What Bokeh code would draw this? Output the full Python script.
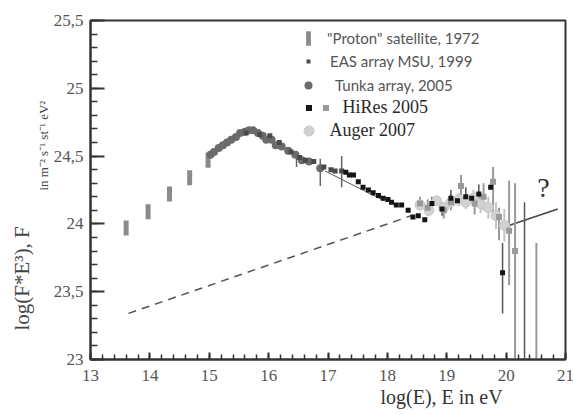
from bokeh.plotting import figure
from bokeh.models import (SingleIntervalTicker, CustomJSTickFormatter, Legend,
                          LegendItem, Label, Title)
from bokeh.embed import file_html
from bokeh.resources import INLINE

# ---------------- data (log10 E in eV, log10 of F*E^3) ----------------
proton_x = [13.60, 13.97, 14.33, 14.67, 14.98]
proton_y = [23.97, 24.09, 24.22, 24.34, 24.47]

tunka_x = [15.02, 15.08, 15.16, 15.23, 15.30, 15.37, 15.45, 15.52, 15.60, 15.67,
           15.74, 15.82, 15.90, 15.96, 16.05, 16.12, 16.22, 16.33, 16.45, 16.56,
           16.68, 16.87]
tunka_y = [24.51, 24.53, 24.56, 24.58, 24.60, 24.62, 24.64, 24.67, 24.68, 24.69,
           24.69, 24.67, 24.65, 24.62, 24.62, 24.58, 24.57, 24.54, 24.51, 24.47,
           24.46, 24.41]
tunka_err_x = [16.47, 16.87]
tunka_err_lo = [24.42, 24.28]
tunka_err_hi = [24.54, 24.48]

eas_x = [15.62, 15.85, 16.02, 16.18, 16.38, 16.52, 16.62, 16.76, 16.93, 17.05, 17.12, 17.23]
eas_y = [24.67, 24.66, 24.65, 24.60, 24.53, 24.49, 24.47, 24.46, 24.42, 24.40, 24.39, 24.39]
eas_err_x = [17.23]
eas_err_lo = [24.27]
eas_err_hi = [24.50]

hires_b_x = [17.30, 17.36, 17.43, 17.51, 17.59, 17.68, 17.76, 17.85, 17.93, 18.01,
             18.07, 18.15, 18.24, 18.35, 18.43, 18.52, 18.63, 18.75, 18.92, 19.07,
             19.18, 19.32, 19.42, 19.54, 19.74, 19.94, 20.31]
hires_b_y = [24.38, 24.36, 24.36, 24.31, 24.27, 24.25, 24.23, 24.21, 24.19, 24.18,
             24.16, 24.14, 24.14, 24.10, 24.05, 24.06, 24.03, 24.15, 24.11, 24.19,
             24.17, 24.20, 24.19, 24.22, 24.27, 23.64, 22.90]
hires_b_err_x = [18.75, 18.92, 19.07, 19.32, 19.54, 19.94, 20.31]
hires_b_err_lo = [24.10, 24.06, 24.12, 24.14, 24.15, 23.34, 22.00]
hires_b_err_hi = [24.20, 24.16, 24.25, 24.27, 24.29, 23.86, 24.16]

hires_g_x = [18.55, 18.68, 18.95, 19.07, 19.24, 19.47, 19.62, 19.78, 19.88, 20.05, 20.15, 20.51]
hires_g_y = [24.15, 24.12, 24.10, 24.16, 24.28, 24.15, 24.20, 24.31, 24.05, 23.95, 23.80, 22.90]
hires_g_lo = [24.10, 24.06, 24.04, 24.10, 24.20, 24.07, 24.10, 24.05, 23.88, 23.55, 23.00, 22.00]
hires_g_hi = [24.20, 24.18, 24.16, 24.22, 24.36, 24.23, 24.30, 24.42, 24.12, 24.32, 24.30, 23.86]

auger_x = [18.55, 18.70, 18.83, 18.95, 19.07, 19.20, 19.32, 19.45, 19.57, 19.70, 19.83, 19.97]
auger_y = [24.14, 24.10, 24.17, 24.12, 24.16, 24.18, 24.16, 24.19, 24.15, 24.12, 24.06, 23.99]
auger_lo = [24.11, 24.07, 24.14, 24.08, 24.12, 24.13, 24.11, 24.13, 24.08, 24.04, 23.96, 23.87]
auger_hi = [24.17, 24.13, 24.20, 24.16, 24.20, 24.23, 24.21, 24.25, 24.22, 24.20, 24.16, 24.11]

dashed_x = [13.64, 18.40]
dashed_y = [23.34, 24.06]
fit_x = [16.95, 17.95]
fit_y = [24.39, 24.17]
gzk_x = [20.06, 20.87]
gzk_y = [23.99, 24.11]

x_range = (13, 21)
y_range = (23, 25.5)

SERIF = "Liberation Serif"
SANS = "Lato"

p = figure(width=574, height=415, x_range=x_range, y_range=y_range,
           output_backend="svg", toolbar_location=None,
           min_border_left=90, min_border_right=9, min_border_top=20,
           min_border_bottom=56)
p.title.visible = False
p.xgrid.visible = False
p.ygrid.visible = False
p.outline_line_color = "#333333"
p.outline_line_width = 2
p.background_fill_color = "white"
p.border_fill_color = "white"

# axes
p.xaxis.ticker = SingleIntervalTicker(interval=1, num_minor_ticks=5)
p.yaxis.ticker = SingleIntervalTicker(interval=0.5, num_minor_ticks=5)
p.yaxis.formatter = CustomJSTickFormatter(code="return tick.toString().replace('.', ',');")
for ax in (p.xaxis, p.yaxis):
    ax.axis_line_color = "#333333"
    ax.axis_line_width = 2
    ax.major_tick_line_color = "#333333"
    ax.minor_tick_line_color = "#333333"
    ax.major_tick_line_width = 2
    ax.minor_tick_line_width = 1.5
    ax.major_tick_out = 0
    ax.minor_tick_out = 0
    ax.major_label_text_font = SERIF
    ax.major_label_text_color = "#555555"
    ax.major_label_text_font_size = "17px"
p.xaxis.major_tick_in = 7
p.xaxis.minor_tick_in = 5
p.yaxis.major_tick_in = 14
p.yaxis.minor_tick_in = 7
p.xaxis.major_label_standoff = 10
p.yaxis.major_label_standoff = 7

# axis titles (placed in side panels)
p.add_layout(Title(text="in m⁻² s⁻¹ st⁻¹ eV²", align="left", offset=169, standoff=0,
                   text_font=SERIF, text_font_size="13px", text_font_style="normal",
                   text_color="#444444"), "left")
p.add_layout(Title(text="log(F*E³), F", align="left", offset=29, standoff=0,
                   text_font=SERIF, text_font_size="21px", text_font_style="normal",
                   text_color="#444444"), "left")
p.add_layout(Title(text="log(E), E in eV", align="left", offset=290, standoff=0,
                   text_font=SERIF, text_font_size="20px", text_font_style="normal",
                   text_color="#333333"), "below")

# lines
p.line(dashed_x, dashed_y, line_color="#555555", line_width=1.5, line_dash="8 6")
p.line(fit_x, fit_y, line_color="#555555", line_width=1)
p.line(gzk_x, gzk_y, line_color="#444444", line_width=1.5)

# error bars
p.segment(x0=hires_g_x, y0=hires_g_lo, x1=hires_g_x, y1=hires_g_hi, line_color="#9a9a9a", line_width=2)
p.segment(x0=auger_x, y0=auger_lo, x1=auger_x, y1=auger_hi, line_color="#c4c4c4", line_width=2)
p.segment(x0=hires_b_err_x, y0=hires_b_err_lo, x1=hires_b_err_x, y1=hires_b_err_hi, line_color="#555555", line_width=1.5)
p.segment(x0=tunka_err_x, y0=tunka_err_lo, x1=tunka_err_x, y1=tunka_err_hi, line_color="#666666", line_width=1.5)
p.segment(x0=eas_err_x, y0=eas_err_lo, x1=eas_err_x, y1=eas_err_hi, line_color="#666666", line_width=1.5)

# points
r_proton = p.rect(proton_x, proton_y, width=5, height=15, width_units="screen",
                  height_units="screen", fill_color="#8a8a8a", line_color=None)
r_auger = p.scatter(auger_x, auger_y, marker="circle", size=10, fill_color="#d2d2d2",
                    line_color="#c8c8c8")
r_hg = p.scatter(hires_g_x, hires_g_y, marker="square", size=6, fill_color="#9a9a9a",
                 line_color=None)
r_tunka = p.scatter(tunka_x, tunka_y, marker="circle", size=8, fill_color="#6b6b6b",
                    line_color=None)
r_eas = p.scatter(eas_x, eas_y, marker="square", size=5, fill_color="#4a4a4a",
                  line_color=None)
r_hb = p.scatter(hires_b_x, hires_b_y, marker="square", size=5, fill_color="#151515",
                 line_color=None)


def make_legend(label, renderer, loc, gw, gh, standoff, font, size, color):
    lg = Legend(items=[LegendItem(label=label, renderers=[renderer])], location=loc,
                glyph_width=gw, glyph_height=gh, label_standoff=standoff,
                label_text_font=font, label_text_font_size=size,
                label_text_color=color, padding=0, margin=0, spacing=0,
                border_line_alpha=0, background_fill_alpha=0, label_height=gh)
    p.add_layout(lg)
    return lg


make_legend('"Proton" satellite, 1972', r_proton, (215, 312), 6, 18, 16, SANS, "15px", "#555555")
make_legend("EAS array MSU, 1999", r_eas, (213, 289), 10, 18, 17, SANS, "15px", "#555555")
make_legend("Tunka array, 2005", r_tunka, (208, 264), 20, 20, 17, SANS, "15px", "#555555")
make_legend(" ", r_hb, (210.5, 244.5), 15, 15, 2, SANS, "6px", "#ffffff")
make_legend("HiRes 2005", r_hg, (227.5, 241.5), 15, 21, 10, SERIF, "18px", "#2a2a2a")
make_legend("Auger 2007", r_auger, (205.5, 216.5), 25, 25, 9, SERIF, "18px", "#2a2a2a")

p.add_layout(Label(x=20.63, y=24.268, text="?",
                   text_font=SERIF, text_font_size="28px", text_color="#333333",
                   text_baseline="alphabetic", text_align="center"))

open("out.html", "w").write(file_html(p, INLINE))
